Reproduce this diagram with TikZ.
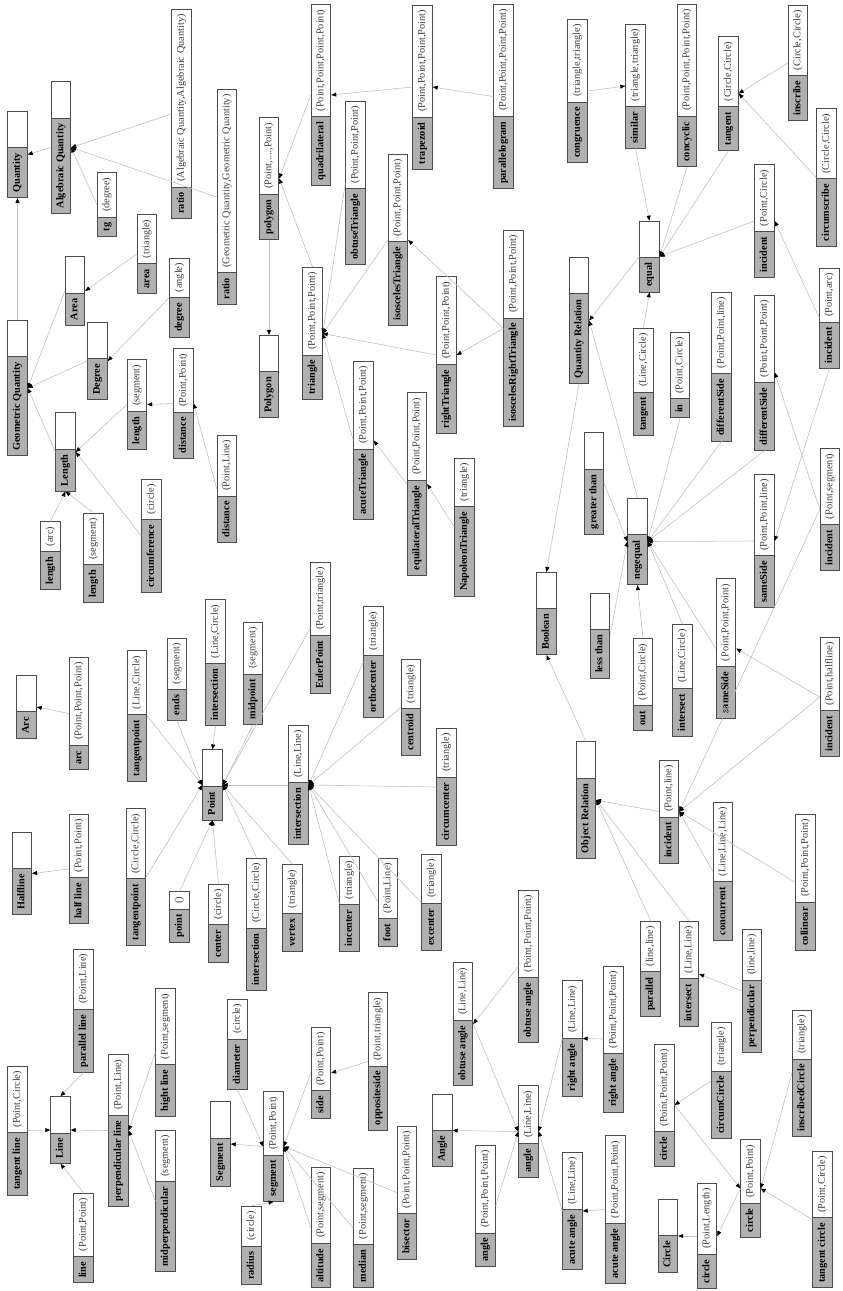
\documentclass[tikz,border=0pt]{standalone}
\usepackage{fontspec}
\setmainfont{Liberation Serif}
\usepackage{xcolor}
\usepackage{tikz}
\usetikzlibrary{shapes.multipart, arrows.meta}

\newcommand{\fnrec}[2]{\textbf{#1}\strut\nodepart{two}\textcolor{black!75}{#2}\strut}
\newcommand{\clrec}[1]{\textbf{#1}\strut\nodepart{two}\hspace*{26pt}\strut}

\begin{document}
\begin{tikzpicture}[
  x=1pt, y=-1pt,
  rec/.style={rectangle split, rectangle split horizontal, rectangle split parts=2,
    rectangle split part fill={black!31, white}, draw=black!70, line width=0.8pt,
    inner xsep=5pt, inner ysep=3.6pt, rotate=90, font=\fontsize{10.3}{12.4}\selectfont},
  arrow/.style={-{Triangle[length=5pt, width=4pt, color=black]}, draw=black!24, line width=0.6pt}
]
\useasboundingbox (0,0) rectangle (843,1291);

% Quantities
\node[rec] (quantity) at (17.5, 154.5) {\clrec{Quantity}};
\node[rec] (geoq) at (17.5, 388) {\clrec{Geometric Quantity}};
\node[rec] (algq) at (61, 147.5) {\clrec{Algebraic Quantity}};
\node[rec] (areac) at (75, 291) {\clrec{Area}};
\node[rec] (degreec) at (97.5, 361) {\clrec{Degree}};
\node[rec] (lengthc) at (65.5, 452) {\clrec{Length}};
\node[rec] (tg) at (107, 204.5) {\fnrec{tg}{(degree)}};
\node[rec] (ratioa) at (181.5, 114) {\fnrec{ratio}{(Algebraic Quantity,Algebraic Quantity)}};
\node[rec] (ratiog) at (227, 197) {\fnrec{ratio}{(Geometric Quantity,Geometric Quantity)}};
\node[rec] (areaf) at (147, 254) {\fnrec{area}{(triangle)}};
\node[rec] (degreef) at (179.5, 297.5) {\fnrec{degree}{(angle)}};
\node[rec] (lenseg) at (137, 404.5) {\fnrec{length}{(segment)}};
\node[rec] (distpp) at (183.5, 403.5) {\fnrec{distance}{(Point,Point)}};
\node[rec] (distpl) at (227, 489) {\fnrec{distance}{(Point,Line)}};
\node[rec] (lenarc) at (50.5, 555.5) {\fnrec{length}{(arc)}};
\node[rec] (lensegb) at (93.5, 558) {\fnrec{length}{(segment)}};
\node[rec] (circumf) at (151.5, 536) {\fnrec{circumference}{(circle)}};

% Polygons
\node[rec] (polygonc) at (269, 376.5) {\clrec{Polygon}};
\node[rec] (polygonf) at (269, 178.5) {\fnrec{polygon}{(Point,....,Point)}};
\node[rec] (quad) at (321, 95) {\fnrec{quadrilateral}{(Point,Point,Point,Point)}};
\node[rec] (trap) at (422.5, 87) {\fnrec{trapezoid}{(Point,Point,Point,Point)}};
\node[rec] (pgram) at (503.5, 96.5) {\fnrec{parallelogram}{(Point,Point,Point,Point)}};
\node[rec] (triangle) at (312.5, 333.5) {\fnrec{triangle}{(Point,Point,Point)}};
\node[rec] (obtusetri) at (355.5, 183) {\fnrec{obtuseTriangle}{(Point,Point,Point)}};
\node[rec] (isotri) at (398, 240) {\fnrec{isoscelesTriangle}{(Point,Point,Point)}};
\node[rec] (righttri) at (446.5, 355) {\fnrec{rightTriangle}{(Point,Point,Point)}};
\node[rec] (isorighttri) at (513.5, 328.5) {\fnrec{isoscelesRightTriangle}{(Point,Point,Point)}};
\node[rec] (acutetri) at (363.5, 440.5) {\fnrec{acuteTriangle}{(Point,Point,Point)}};
\node[rec] (equitri) at (417, 484) {\fnrec{equilateralTriangle}{(Point,Point,Point)}};
\node[rec] (napoleon) at (464.5, 527) {\fnrec{NapoleonTriangle}{(triangle)}};

% Points
\node[rec] (pointc) at (212.5, 785) {\clrec{Point}};
\node[rec] (euler) at (320.5, 628) {\fnrec{EulerPoint}{(Point,triangle)}};
\node[rec] (ortho) at (373.5, 662) {\fnrec{orthocenter}{(triangle)}};
\node[rec] (centroid) at (411, 707.5) {\fnrec{centroid}{(triangle)}};
\node[rec] (interll) at (298.5, 785) {\fnrec{intersection}{(Line,Line)}};
\node[rec] (circumc) at (446.5, 787) {\fnrec{circumcenter}{(triangle)}};
\node[rec] (incenter) at (349.5, 903.5) {\fnrec{incenter}{(triangle)}};
\node[rec] (foot) at (388, 902) {\fnrec{foot}{(Point,Line)}};
\node[rec] (excenter) at (431.5, 902.5) {\fnrec{excenter}{(triangle)}};
\node[rec] (vertex) at (292.5, 908) {\fnrec{vertex}{(triangle)}};
\node[rec] (intercc) at (256.5, 924) {\fnrec{intersection}{(Circle,Circle)}};
\node[rec] (center) at (218.5, 923.5) {\fnrec{center}{(circle)}};
\node[rec] (pointf) at (179.5, 917) {\fnrec{point}{()}};
\node[rec] (tanptcc) at (136, 877) {\fnrec{tangentpoint}{(Circle,Circle)}};
\node[rec] (tanptlc) at (137, 716) {\fnrec{tangentpoint}{(Line,Circle)}};
\node[rec] (ends) at (177, 679) {\fnrec{ends}{(segment)}};
\node[rec] (interlc) at (215.5, 662.5) {\fnrec{intersection}{(Line,Circle)}};
\node[rec] (midpoint) at (253, 673.5) {\fnrec{midpoint}{(segment)}};

% Arcs, halflines, lines
\node[rec] (arcc) at (26.5, 707) {\clrec{Arc}};
\node[rec] (arcf) at (79, 713.5) {\fnrec{arc}{(Point,Point,Point)}};
\node[rec] (halflinec) at (22, 873.5) {\clrec{Halfline}};
\node[rec] (halflinef) at (79, 869) {\fnrec{half line}{(Point,Point)}};
\node[rec] (linec) at (60.5, 1130) {\clrec{Line}};
\node[rec] (tanline) at (17.5, 1130.5) {\fnrec{tangent line}{(Point,Circle)}};
\node[rec] (linef) at (83.5, 1238) {\fnrec{line}{(Point,Point)}};
\node[rec] (parline) at (83.5, 1010.5) {\fnrec{parallel line}{(Point,Line)}};
\node[rec] (perpline) at (118.5, 1130.5) {\fnrec{perpendicular line}{(Point,Line)}};
\node[rec] (hightline) at (165.5, 1052.5) {\fnrec{hight line}{(Point,segment)}};
\node[rec] (midperp) at (165.5, 1201) {\fnrec{midperpendicular}{(segment)}};

% Segments
\node[rec] (segmentc) at (220.5, 1144) {\clrec{Segment}};
\node[rec] (segmentf) at (273.5, 1146.5) {\fnrec{segment}{(Point,Point)}};
\node[rec] (diameter) at (237.5, 1044) {\fnrec{diameter}{(circle)}};
\node[rec] (radius) at (251.5, 1245.5) {\fnrec{radius}{(circle)}};
\node[rec] (side) at (321, 1073) {\fnrec{side}{(Point,Point)}};
\node[rec] (oppside) at (378, 1061.5) {\fnrec{oppositeside}{(Point,triangle)}};
\node[rec] (altitude) at (321, 1227.5) {\fnrec{altitude}{(Point,segment)}};
\node[rec] (median) at (363.5, 1228) {\fnrec{median}{(Point,segment)}};
\node[rec] (bisector) at (407, 1192.5) {\fnrec{bisector}{(Point,Point,Point)}};

% Angles
\node[rec] (anglec) at (442.5, 1130.5) {\clrec{Angle}};
\node[rec] (anglell) at (528.5, 1131.5) {\fnrec{angle}{(Line,Line)}};
\node[rec] (angleppp) at (485.5, 1206) {\fnrec{angle}{(Point,Point,Point)}};
\node[rec] (obtusell) at (463, 1024) {\fnrec{obtuse angle}{(Line,Line)}};
\node[rec] (obtuseppp) at (528.5, 966.5) {\fnrec{obtuse angle}{(Point,Point,Point)}};
\node[rec] (rightll) at (572.5, 1038.5) {\fnrec{right angle}{(Line,Line)}};
\node[rec] (rightppp) at (613.5, 1039) {\fnrec{right angle}{(Point,Point,Point)}};
\node[rec] (acutell) at (572.5, 1211) {\fnrec{acute angle}{(Line,Line)}};
\node[rec] (acuteppp) at (615.5, 1209.5) {\fnrec{acute angle}{(Point,Point,Point)}};

% Circles
\node[rec] (circlec) at (668, 1236) {\clrec{Circle}};
\node[rec] (circlepl) at (707, 1236) {\fnrec{circle}{(Point,Length)}};
\node[rec] (circlepp) at (750.5, 1188.5) {\fnrec{circle}{(Point,Point)}};
\node[rec] (circleppp) at (664.5, 1105) {\fnrec{circle}{(Point,Point,Point)}};
\node[rec] (circumcircle) at (721.5, 1080.5) {\fnrec{circumCircle}{(triangle)}};
\node[rec] (inscircle) at (802, 1073.5) {\fnrec{inscribedCircle}{(triangle)}};
\node[rec] (tancircle) at (822.5, 1219.5) {\fnrec{tangent circle}{(Point,Circle)}};

% Relations
\node[rec] (boolean) at (546.5, 613.5) {\clrec{Boolean}};
\node[rec] (qrel) at (579, 320.5) {\clrec{Quantity Relation}};
\node[rec] (objrel) at (586, 800) {\clrec{Object Relation}};
\node[rec] (equal) at (649.5, 256.5) {\clrec{equal}};
\node[rec] (negequal) at (637.5, 541.5) {\clrec{negequal}};
\node[rec] (greater) at (594, 483.5) {\clrec{greater than}};
\node[rec] (less) at (600, 635.5) {\clrec{less than}};
\node[rec] (congruence) at (577.5, 91) {\fnrec{congruence}{(triangle,triangle)}};
\node[rec] (similar) at (635.5, 86) {\fnrec{similar}{(triangle,triangle)}};
\node[rec] (concyclic) at (687, 85.5) {\fnrec{concyclic}{(Point,Point,Point,Point)}};
\node[rec] (tangentcc) at (728.5, 93.5) {\fnrec{tangent}{(Circle,Circle)}};
\node[rec] (inscribe) at (798, 63) {\fnrec{inscribe}{(Circle,Circle)}};
\node[rec] (circumscribe) at (826.5, 177.5) {\fnrec{circumscribe}{(Circle,Circle)}};
\node[rec] (incidentpc) at (764.5, 221) {\fnrec{incident}{(Point,Circle)}};
\node[rec] (incidentpa) at (829.5, 318) {\fnrec{incident}{(Point,arc)}};
\node[rec] (tangentlc) at (643.5, 382) {\fnrec{tangent}{(Line,Circle)}};
\node[rec] (inpc) at (680, 375) {\fnrec{in}{(Point,Circle)}};
\node[rec] (diffppl) at (721.5, 366.5) {\fnrec{differentSide}{(Point,Point,line)}};
\node[rec] (diffppp) at (764.5, 372.5) {\fnrec{differentSide}{(Point,Point,Point)}};
\node[rec] (incidentps) at (830, 509.5) {\fnrec{incident}{(Point,segment)}};
\node[rec] (sameppl) at (764.5, 541) {\fnrec{sameSide}{(Point,Point,line)}};
\node[rec] (sameppp) at (726, 648.5) {\fnrec{sameSide}{(Point,Point,Point)}};
\node[rec] (outpc) at (643, 684.5) {\fnrec{out}{(Point,Circle)}};
\node[rec] (intersectlc) at (682.5, 680.5) {\fnrec{intersect}{(Line,Circle)}};
\node[rec] (incidentpha) at (830, 697) {\fnrec{incident}{(Point,halfline)}};
\node[rec] (incidentpl) at (669, 811.5) {\fnrec{incident}{(Point,line)}};
\node[rec] (concurrent) at (723, 871.5) {\fnrec{concurrent}{(Line,Line,Line)}};
\node[rec] (collinear) at (805.5, 882.5) {\fnrec{collinear}{(Point,Point,Point)}};
\node[rec] (parallel) at (650.5, 968.5) {\fnrec{parallel}{(line,line)}};
\node[rec] (intersectll) at (689, 974) {\fnrec{intersect}{(Line,Line)}};
\node[rec] (perp) at (752, 991) {\fnrec{perpendicular}{(line,line)}};

% Connections: quantities
\draw[arrow] (geoq.east) -- (quantity.west);
\draw[arrow] (algq.north) -- (quantity.south);
\draw[arrow] (tg.north) -- (algq.south);
\draw[arrow] (ratioa.north) -- (algq.south);
\draw[arrow] (ratiog.north) -- (algq.south);
\draw[arrow] (areaf.north) -- (areac.south);
\draw[arrow] (areac.north) -- (geoq.south);
\draw[arrow] (degreec.north) -- (geoq.south);
\draw[arrow] (degreef.north) -- (degreec.south);
\draw[arrow] (lengthc.north) -- (geoq.south);
\draw[arrow] (lenseg.north) -- (lengthc.south);
\draw[arrow] (distpp.north) -- (lenseg.south);
\draw[arrow] (distpl.north) -- (distpp.south);
\draw[arrow] (lenarc.east) -- (lengthc.west);
\draw[arrow] (lensegb.east) -- (lengthc.west);
\draw[arrow] (circumf.north) -- (lengthc.south);

% Connections: polygons
\draw[arrow] (polygonf.west) -- (polygonc.east);
\draw[arrow] (quad.north) -- (polygonf.south);
\draw[arrow] (triangle.east) -- (polygonf.south);
\draw[arrow] (trap.north) -- (quad.south);
\draw[arrow] (pgram.north) -- (trap.south);
\draw[arrow] (obtusetri.north) -- (triangle.south);
\draw[arrow] (isotri.north) -- (triangle.south);
\draw[arrow] (righttri.north) -- (triangle.south);
\draw[arrow] (acutetri.north) -- (triangle.south);
\draw[arrow] (isorighttri.north) -- (righttri.south);
\draw[arrow] (isorighttri.north) -- (isotri.south);
\draw[arrow] (equitri.north) -- (acutetri.south);
\draw[arrow] (napoleon.north) -- (equitri.south);

% Connections: points
\draw[arrow] (interlc.west) -- (pointc.east);
\draw[arrow] (tanptlc.south) -- (pointc.north);
\draw[arrow] (ends.west) -- (pointc.north);
\draw[arrow] (tanptcc.south) -- (pointc.north);
\draw[arrow] (midpoint.west) -- (pointc.south);
\draw[arrow] (euler.north) -- (pointc.south);
\draw[arrow] (interll.north) -- (pointc.south);
\draw[arrow] (intercc.east) -- (pointc.south);
\draw[arrow] (vertex.east) -- (pointc.south);
\draw[arrow] (pointf.east) -- (pointc.west);
\draw[arrow] (center.east) -- (pointc.west);
\draw[arrow] (ortho.north) -- (interll.south);
\draw[arrow] (centroid.north) -- (interll.south);
\draw[arrow] (circumc.north) -- (interll.south);
\draw[arrow] (incenter.north) -- (interll.south);
\draw[arrow] (foot.north) -- (interll.south);
\draw[arrow] (excenter.north) -- (interll.south);

% Connections: arcs, halflines, lines
\draw[arrow] (arcf.north) -- (arcc.south);
\draw[arrow] (halflinef.north) -- (halflinec.south);
\draw[arrow] (tanline.south) -- (linec.north);
\draw[arrow] (perpline.north) -- (linec.south);
\draw[arrow] (parline.west) -- (linec.east);
\draw[arrow] (linef.east) -- (linec.west);
\draw[arrow] (hightline.north) -- (perpline.south);
\draw[arrow] (midperp.north) -- (perpline.south);

% Connections: segments
\draw[arrow] (segmentf.north) -- (segmentc.south);
\draw[arrow] (diameter.west) -- (segmentf.north);
\draw[arrow] (radius.east) -- (segmentf.west);
\draw[arrow] (side.north) -- (segmentf.south);
\draw[arrow] (oppside.north) -- (side.south);
\draw[arrow] (altitude.north) -- (segmentf.south);
\draw[arrow] (median.north) -- (segmentf.south);
\draw[arrow] (bisector.north) -- (segmentf.south);

% Connections: angles
\draw[arrow] (anglell.north) -- (anglec.south);
\draw[arrow] (obtusell.south) -- (anglell.north);
\draw[arrow] (angleppp.south) -- (anglell.north);
\draw[arrow] (obtuseppp.north) -- (obtusell.south);
\draw[arrow] (rightll.north) -- (anglell.south);
\draw[arrow] (acutell.north) -- (anglell.south);
\draw[arrow] (rightppp.north) -- (rightll.south);
\draw[arrow] (acuteppp.north) -- (acutell.south);

% Connections: circles
\draw[arrow] (circlepl.north) -- (circlec.south);
\draw[arrow] (circlepp.north) -- (circlepl.south);
\draw[arrow] (circleppp.south) -- (circlepp.north);
\draw[arrow] (circumcircle.north) -- (circleppp.south);
\draw[arrow] (inscircle.north) -- (circlepp.south);
\draw[arrow] (tancircle.north) -- (circlepp.south);

% Connections: relations
\draw[arrow] (qrel.west) -- (boolean.east);
\draw[arrow] (objrel.east) -- (boolean.west);
\draw[arrow] (equal.north) -- (qrel.south);
\draw[arrow] (negequal.east) -- (qrel.south);
\draw[arrow] (greater.south) -- (negequal.north);
\draw[arrow] (less.south) -- (negequal.north);
\draw[arrow] (outpc.east) -- (negequal.west);
\draw[arrow] (intersectlc.east) -- (negequal.south);
\draw[arrow] (sameppp.north) -- (negequal.south);
\draw[arrow] (sameppl.north) -- (negequal.south);
\draw[arrow] (diffppl.west) -- (negequal.south);
\draw[arrow] (diffppp.west) -- (negequal.south);
\draw[arrow] (inpc.west) -- (negequal.south);
\draw[arrow] (tangentlc.east) -- (equal.west);
\draw[arrow] (similar.west) -- (equal.east);
\draw[arrow] (concyclic.west) -- (equal.south);
\draw[arrow] (tangentcc.west) -- (equal.south);
\draw[arrow] (incidentpc.north) -- (equal.south);
\draw[arrow] (congruence.south) -- (similar.north);
\draw[arrow] (inscribe.north) -- (tangentcc.south);
\draw[arrow] (circumscribe.north) -- (tangentcc.south);
\draw[arrow] (incidentpa.north) -- (incidentpc.south);
\draw[arrow] (incidentpa.west) -- (sameppl.south);
\draw[arrow] (incidentps.north) -- (diffppp.south);
\draw[arrow] (incidentps.north) -- (incidentpl.south);
\draw[arrow] (incidentpha.north) -- (sameppp.south);
\draw[arrow] (incidentpha.north) -- (incidentpl.south);
\draw[arrow] (concurrent.north) -- (incidentpl.south);
\draw[arrow] (collinear.north) -- (incidentpl.south);
\draw[arrow] (incidentpl.north) -- (objrel.south);
\draw[arrow] (parallel.east) -- (objrel.south);
\draw[arrow] (intersectll.east) -- (objrel.south);
\draw[arrow] (perp.north) -- (intersectll.south);

\end{tikzpicture}
\end{document}
